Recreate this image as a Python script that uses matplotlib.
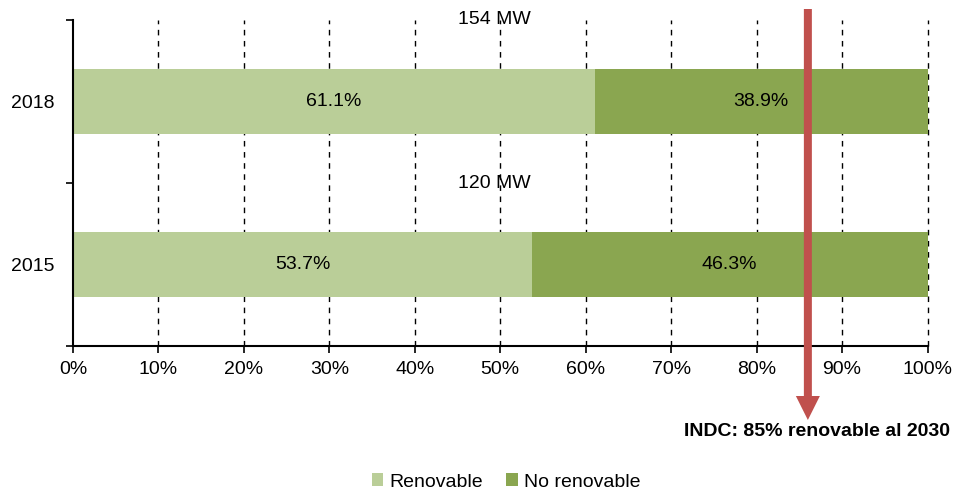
import matplotlib
matplotlib.use("Agg")
import matplotlib.pyplot as plt
from matplotlib.patches import FancyArrow

plt.rcParams['font.family'] = ['Liberation Sans', 'DejaVu Sans']

years = ["2015", "2018"]
renovable = [53.7, 61.1]
no_renovable = [46.3, 38.9]
capacity_labels = ["120 MW", "154 MW"]
target = 85
series_names = ["Renovable", "No renovable"]
c_ren = "#BACE98"
c_noren = "#8AA650"
FS = 14

fig = plt.figure(figsize=(9.58, 4.92), dpi=100)
ax = fig.add_axes([73/958, 1-346/492, (927.5-73)/958, (346-20)/492])

y = [0, 1]
b1 = ax.barh(y, renovable, height=0.4, color=c_ren, label=series_names[0], zorder=2)
b2 = ax.barh(y, no_renovable, left=renovable, height=0.4, color=c_noren, label=series_names[1], zorder=2)

for i in range(len(years)):
    ax.text(renovable[i]/2, y[i], f"{renovable[i]:.1f}%", ha="center", va="center", fontsize=FS, zorder=3)
    ax.text(renovable[i] + no_renovable[i]/2, y[i], f"{no_renovable[i]:.1f}%", ha="center", va="center", fontsize=FS, zorder=3)
    ax.text(49.3, y[i] + 0.5, capacity_labels[i], ha="center", va="center", fontsize=FS, zorder=1)

ax.set_xlim(0, 100)
ax.set_ylim(-0.5, 1.5)
ax.set_xticks(range(0, 101, 10))
ax.set_xticklabels([f"{v}%" for v in range(0, 101, 10)], fontsize=FS)
ax.set_yticks(y)
ax.set_yticklabels(years, fontsize=FS)
ax.set_yticks([-0.5, 0.5, 1.5], minor=True)
ax.tick_params(axis="y", which="major", length=0, pad=13)
ax.tick_params(axis="y", which="minor", length=5, width=1.2, direction="out")
ax.tick_params(axis="x", length=5, width=1.2, direction="out", pad=6)
for v in range(10, 101, 10):
    ax.axvline(v, color="black", linestyle=(0, (4, 4)), linewidth=1, zorder=1, clip_on=False)
for s in ["top", "right"]:
    ax.spines[s].set_visible(False)
for s in ["left", "bottom"]:
    ax.spines[s].set_linewidth(1.5)

# arrow: positioned on the axis scale, sized in figure pixels
ax_x = 86.0
xfig = fig.transFigure.inverted().transform(ax.transData.transform((ax_x, 0)))[0]
arrow = FancyArrow(xfig, 1-9/492, 0, -(420-9)/492, width=8/958, head_width=24/958,
                   head_length=24/492, length_includes_head=True,
                   transform=fig.transFigure, color="#C0504D", zorder=5, linewidth=0)
fig.patches.append(arrow)

fig.text(950/958, 1-432/492, "INDC: 85% renovable al 2030", ha="right", va="center",
         fontsize=FS, fontweight="bold")

leg = fig.legend(handles=[b1, b2], loc="center", bbox_to_anchor=(506/958, 1-482/492), ncol=2,
                 frameon=False, fontsize=FS, handlelength=0.6, handleheight=0.6,
                 handletextpad=0.3, columnspacing=1.2)

fig.savefig("out.png", dpi=100)
